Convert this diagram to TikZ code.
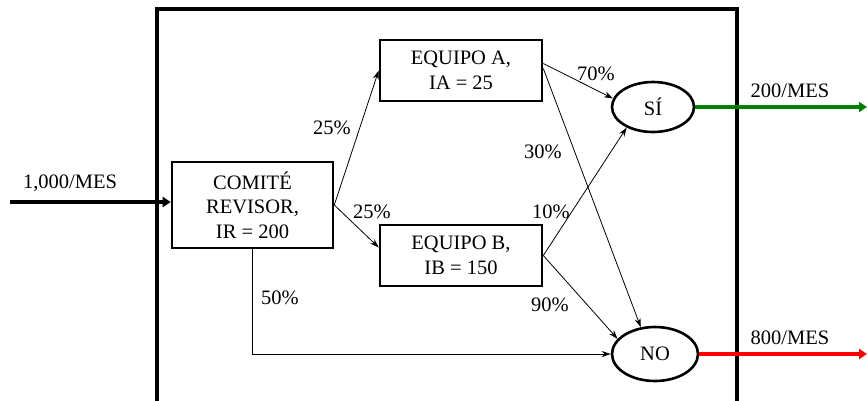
\documentclass[tikz,border=0pt]{standalone}
\usepackage{fontspec}
\setmainfont{Liberation Serif}
\usetikzlibrary{arrows.meta,shapes.geometric,calc}
\definecolor{outgreen}{RGB}{0,128,0}
\definecolor{outred}{RGB}{255,0,0}
\begin{document}
\begin{tikzpicture}[x=1pt,y=-1pt,
  every node/.style={font=\fontsize{20.5}{24.5}\selectfont, inner sep=0pt},
  box/.style={draw, line width=2.6pt, rectangle, align=center},
  oval/.style={draw, line width=2.6pt, ellipse, minimum width=82pt, minimum height=50pt},
  flow/.style={line width=0.8pt, -{Stealth[length=9pt,width=6pt]}},
  bigflow/.style={line width=4pt, -{Triangle[length=8pt,width=10pt]}},
  lbl/.style={}]
\useasboundingbox (0,0) rectangle (867,400);
\fill[white] (0,0) rectangle (867,400);
\draw[line width=3.6pt] (157,420) -- (157,9) -- (737,9) -- (737,420);

\node[box, minimum width=161pt, minimum height=86pt] (comite) at (252.5,205) {COMITÉ\\REVISOR,\\IR = 200};
\node[box, minimum width=162pt, minimum height=61pt] (eqA) at (461,70.5) {EQUIPO A,\\IA = 25};
\node[box, minimum width=162pt, minimum height=61pt] (eqB) at (461,255.5) {EQUIPO B,\\IB = 150};
\node[oval] (si) at (653,107) {SÍ};
\node[oval, minimum width=86pt, minimum height=54pt] (no) at (655,354) {NO};

\coordinate (inS) at (10,202);
\coordinate (outS) at (867,107);
\coordinate (outN) at (867,354);

\draw[bigflow] (inS) -- (comite.west |- inS);
\draw[bigflow, outgreen] (si.east) -- (outS);
\draw[bigflow, outred] (no.east) -- (outN);

\draw[flow] (comite.east) -- (eqA.west);
\draw[flow] (comite.east) -- ([yshift=8pt]eqB.west);
\draw[flow] (comite.south) |- (no.west);
\draw[flow] ([yshift=7pt]eqA.east) -- (si.168);
\draw[flow] ([yshift=2pt]eqA.east) -- (no.118);
\draw[flow] (eqB.east) -- (si.218);
\draw[flow] (eqB.east) -- (no.158);

\node[lbl] (l1) at (70,183) {1,000/MES};
\node[lbl] (l2) at (790,91) {200/MES};
\node[lbl] (l3) at (790,338) {800/MES};
\node[lbl] (p1) at (332,128) {25\%};
\node[lbl] (p2) at (372,212) {25\%};
\node[lbl] (p3) at (280,298) {50\%};
\node[lbl] (p4) at (596,74) {70\%};
\node[lbl] (p5) at (543,152) {30\%};
\node[lbl] (p6) at (551,212) {10\%};
\node[lbl] (p7) at (550,305) {90\%};
\end{tikzpicture}
\end{document}
